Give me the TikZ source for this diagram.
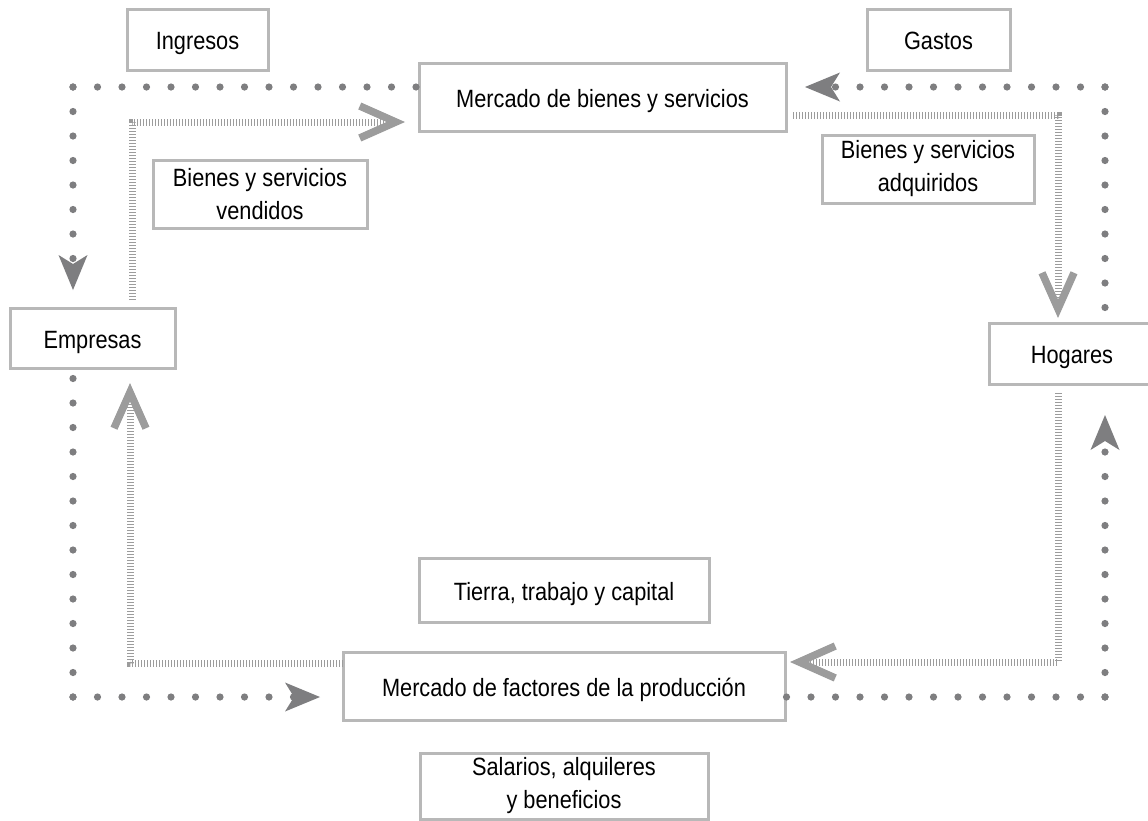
\documentclass[tikz,border=0pt]{standalone}
\usepackage{fontspec}
\setmainfont{Liberation Sans}[FakeStretch=0.87]
\usetikzlibrary{arrows.meta}
\definecolor{boxgray}{HTML}{B8B8B8}
\definecolor{dotgray}{HTML}{7E7E80}
\definecolor{stripegray}{HTML}{9C9C9C}
\begin{document}
\begin{tikzpicture}[x=1pt,y=-1pt,
  box/.style={draw=boxgray, line width=3pt, fill=white, inner sep=0pt, outer sep=0pt,
    align=center, font=\fontsize{25}{33}\selectfont, text=black},
  one/.style={text height=20pt, text depth=0pt},
  dotl/.style={draw=dotgray, line width=7.2pt, line cap=round, dash pattern=on 0pt off 24.5pt},
  dtip/.style={-{Stealth[length=35pt,width=29pt,inset=9pt,line width=0pt]}},
  stripe/.style={draw=stripegray, line width=7pt, dash pattern=on 1.4pt off 1.6pt},
  stip/.style={-{Straight Barb[length=36pt,width=32pt,line width=7.5pt]}}
]
\useasboundingbox (0,0) rectangle (1148,820);
\fill[white] (0,0) rectangle (1148,820);

% main nodes
\node[box, one, minimum width=367pt, minimum height=68pt] (mb) at (602.5,97) {Mercado de bienes y servicios};
\node[box, one, minimum width=165pt, minimum height=60pt] (emp) at (92.5,338) {Empresas};
\node[box, one, minimum width=165pt, minimum height=61pt] (hog) at (1072,353.5) {Hogares};
\node[box, one, minimum width=442pt, minimum height=68pt] (mf) at (564,686) {Mercado de factores de la producción};

% label boxes
\node[box, one, minimum width=141pt, minimum height=61pt] (ing) at (197.5,39.5) {Ingresos};
\node[box, one, minimum width=143pt, minimum height=61pt] (gas) at (938.5,39.5) {Gastos};
\node[box, minimum width=214pt, minimum height=68pt] (ven) at (260,194) {Bienes y servicios\\vendidos};
\node[box, minimum width=212pt, minimum height=68pt] (adq) at (928,169) {Bienes y servicios\\adquiridos};
\node[box, one, minimum width=290pt, minimum height=64pt] (tie) at (564,590) {Tierra, trabajo y capital};
\node[box, minimum width=288pt, minimum height=66pt] (sal) at (564,786) {Salarios, alquileres\\y beneficios};

% corners
\coordinate (c1) at (73,87);
\coordinate (c2) at (1105,87);
\coordinate (c3) at (1105,697);
\coordinate (c4) at (73,697);
\coordinate (s1) at (132,122);
\coordinate (s2) at (1058,115);
\coordinate (s3) at (1058,662);
\coordinate (s4) at (130,663);

% dotted money flows
\draw[dotl] (c1) -- (mb.west |- c1);
\draw[dotl, dtip, shorten >=18pt] (c1) -- (c1 |- emp.north);
\draw[dotl] (c2) -- (c2 |- hog.north);
\draw[dotl, dtip, shorten >=19pt] (c2) -- (mb.east |- c2);
\draw[dotl] (c3) -- (mf.east |- c3);
\draw[dotl, dtip, shorten >=31pt] (c3) -- (c3 |- hog.south);
\draw[dotl] (c4) -- (c4 |- emp.south);
\draw[dotl, dtip, shorten >=23pt] (c4) -- (mf.west |- c4);

% striped real flows
\draw[stripe, stip, shorten <=8pt, shorten >=14pt] (s1 |- emp.north) -- (s1) -- (mb.west |- s1);
\draw[stripe, stip, shorten <=7pt, shorten >=5pt] (mb.east |- s2) -- (s2) -- (s2 |- hog.north);
\draw[stripe, stip, shorten <=9pt, shorten >=5pt] (s3 |- hog.south) -- (s3) -- (mf.east |- s3);
\draw[stripe, stip, shorten >=15pt] (mf.west |- s4) -- (s4) -- (s4 |- emp.south);
\end{tikzpicture}
\end{document}
